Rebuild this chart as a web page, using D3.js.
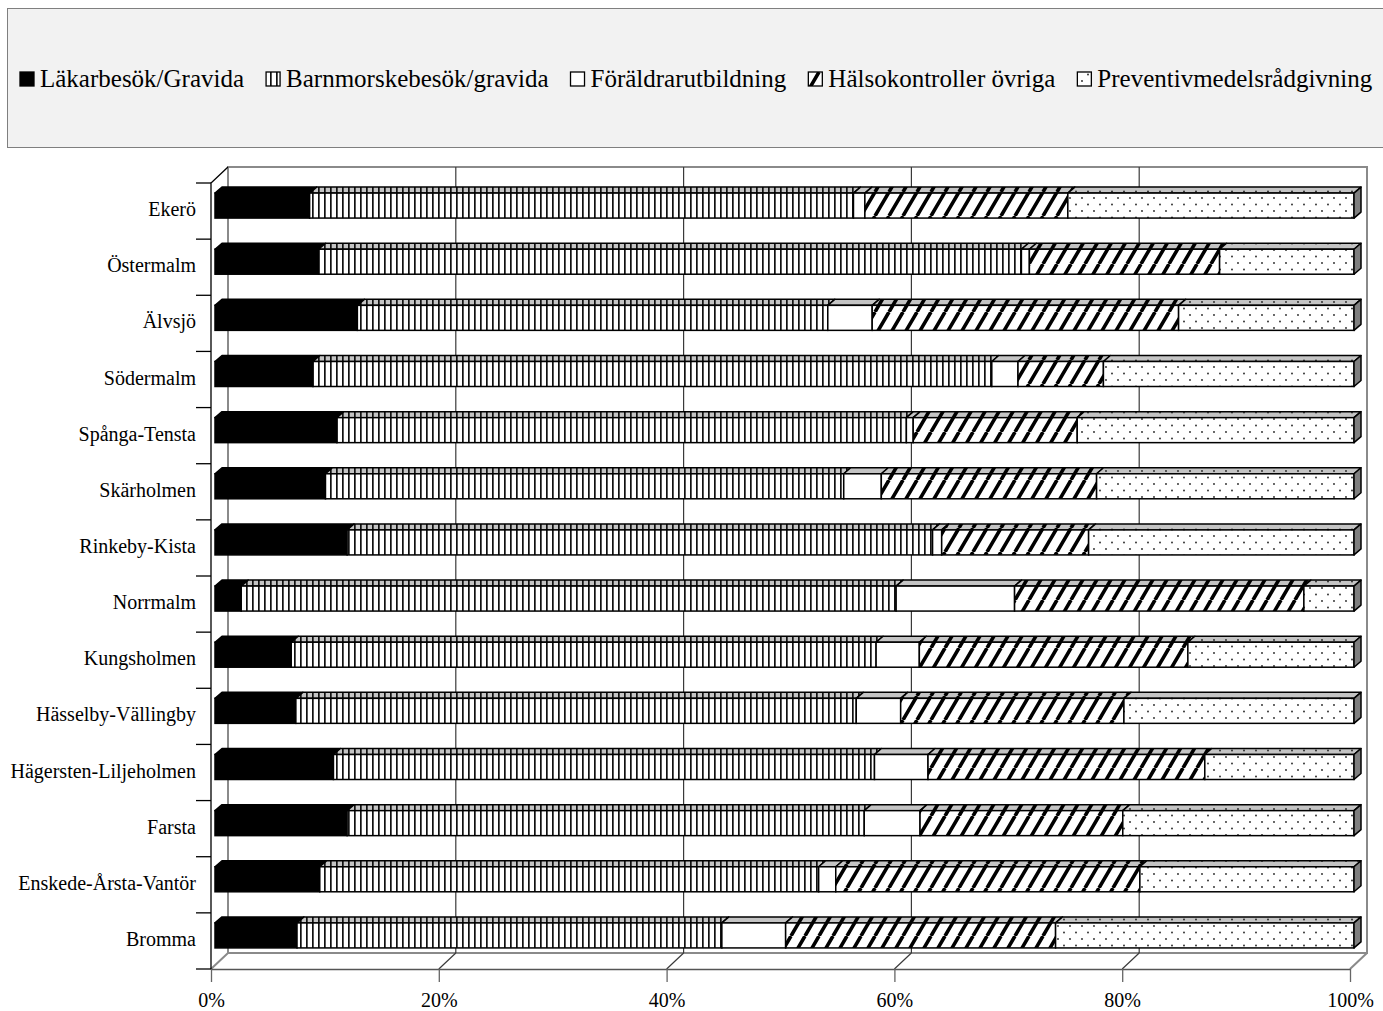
<!DOCTYPE html>
<html>
<head>
<meta charset="utf-8">
<script src="https://cdn.jsdelivr.net/npm/d3@7"></script>
<style>
  body { margin: 0; background: #fff; }
  text { font-family: "Liberation Serif", "Times New Roman", serif; fill: #000; }
</style>
</head>
<body>
<script>
// districts, top to bottom as drawn
var categories = ["Ekerö", "Östermalm", "Älvsjö", "Södermalm", "Spånga-Tensta",
  "Skärholmen", "Rinkeby-Kista", "Norrmalm", "Kungsholmen", "Hässelby-Vällingby",
  "Hägersten-Liljeholmen", "Farsta", "Enskede-Årsta-Vantör", "Bromma"];

var seriesNames = ["Läkarbesök/Gravida", "Barnmorskebesök/gravida", "Föräldrarutbildning",
  "Hälsokontroller övriga", "Preventivmedelsrådgivning"];

// shares in percent
var lakarbesok      = [8.3, 9.1, 12.5, 8.6, 10.7, 9.7, 11.6, 2.3, 6.7, 7.1, 10.4, 11.6, 9.2, 7.2];
var barnmorske      = [47.7, 61.7, 41.3, 59.6, 50.0, 45.5, 51.4, 57.5, 51.4, 49.2, 47.5, 45.4, 43.8, 37.3];
var foraldrar       = [1.0, 0.7, 3.9, 2.3, 0.6, 3.3, 0.8, 10.4, 3.8, 3.9, 4.7, 4.9, 1.5, 5.6];
var halsokontroller = [17.8, 16.7, 26.9, 7.5, 14.4, 18.9, 12.9, 25.4, 23.6, 19.6, 24.3, 17.8, 26.7, 23.7];
var preventiv       = [25.1, 11.8, 15.4, 22.0, 24.3, 22.6, 23.3, 4.4, 14.6, 20.2, 13.1, 20.3, 18.8, 26.2];

var xTicks = [0, 0.2, 0.4, 0.6, 0.8, 1];

var keys = ["k0", "k1", "k2", "k3", "k4"];
var seriesValues = [lakarbesok, barnmorske, foraldrar, halsokontroller, preventiv];
var rows = categories.map(function (c, i) {
  var r = { cat: c };
  keys.forEach(function (k, j) { r[k] = seriesValues[j][i]; });
  return r;
});

var width = 1383, height = 1011;
var wall = { dx: 17, dy: 16 };   // depth of back wall
var bar = { off: 4, dx: 7, dy: 6, h: 25, shift: 5.5 };

var svg = d3.select("body").append("svg")
  .attr("width", width)
  .attr("height", height);

var defs = svg.append("defs");

function makePatterns(id, bg) {
  var p = defs.append("pattern").attr("id", "vert" + id)
    .attr("patternUnits", "userSpaceOnUse").attr("width", 6).attr("height", 10);
  p.append("rect").attr("width", 6).attr("height", 10).attr("fill", bg);
  p.append("rect").attr("x", 0).attr("width", 1.7).attr("height", 10).attr("fill", "#111");

  p = defs.append("pattern").attr("id", "diag" + id)
    .attr("patternUnits", "userSpaceOnUse").attr("width", 14).attr("height", 24);
  p.append("rect").attr("width", 14).attr("height", 24).attr("fill", bg);
  p.append("path").attr("d", "M-7,24L7,0M7,24L21,0")
    .attr("stroke", "#000").attr("stroke-width", 3.6);

  p = defs.append("pattern").attr("id", "dots" + id)
    .attr("patternUnits", "userSpaceOnUse").attr("width", 12).attr("height", 13);
  p.append("rect").attr("width", 12).attr("height", 13).attr("fill", bg);
  p.append("circle").attr("cx", 2).attr("cy", 3).attr("r", 0.9).attr("fill", "#222");
  p.append("circle").attr("cx", 8).attr("cy", 9.5).attr("r", 0.9).attr("fill", "#222");
}
makePatterns("F", "#fff");
makePatterns("T", "#c4c4c4");

var frontFill = ["#000", "url(#vertF)", "#fff", "url(#diagF)", "url(#dotsF)"];
var topFill = ["#000", "url(#vertT)", "#c4c4c4", "url(#diagT)", "url(#dotsT)"];

// legend
var legend = svg.append("g");
legend.append("rect")
  .attr("x", 7.5).attr("y", 8.5)
  .attr("width", 1400).attr("height", 139)
  .attr("fill", "#f2f2f2")
  .attr("stroke", "#7f7f7f");

var lx = 20;
seriesNames.forEach(function (name, i) {
  legend.append("rect")
    .attr("x", lx).attr("y", 72)
    .attr("width", 14).attr("height", 14)
    .attr("fill", frontFill[i])
    .attr("stroke", "#000").attr("stroke-width", 1.3);
  var t = legend.append("text")
    .attr("x", lx + 20).attr("y", 87)
    .style("font-size", "25px")
    .text(name);
  lx = lx + 20 + t.node().getComputedTextLength() + 22;
});

// scales
var x = d3.scaleLinear().domain([0, 1]).range([211, 1350]);
var y = d3.scaleBand().domain(categories).range([183, 969]);

var yTop = y.range()[0], yBot = y.range()[1];

// back wall and floor
var walls = svg.append("g")
  .attr("fill", "none")
  .attr("stroke", "#8a8a8a")
  .attr("stroke-width", 2);
walls.append("path")
  .attr("d", "M" + (x(0) + wall.dx) + "," + (yBot - wall.dy) +
    "V" + (yTop - wall.dy) + "H" + (x(1) + wall.dx) +
    "V" + (yBot - wall.dy) + "H" + (x(0) + wall.dx) +
    "L" + x(0) + "," + yBot);
walls.append("path")
  .attr("d", "M" + x(1) + "," + yBot + "L" + (x(1) + wall.dx) + "," + (yBot - wall.dy));

// gridlines on back wall plus floor diagonals
var grid = svg.append("g").attr("stroke", "#3a3a3a").attr("stroke-width", 1.2);
grid.selectAll("line.v")
  .data(xTicks.slice(1, -1))
  .enter().append("line")
  .attr("x1", function (d) { return x(d) + wall.dx; })
  .attr("x2", function (d) { return x(d) + wall.dx; })
  .attr("y1", yTop - wall.dy)
  .attr("y2", yBot - wall.dy);
grid.selectAll("line.f")
  .data(xTicks.slice(1, -1))
  .enter().append("line")
  .attr("x1", function (d) { return x(d); })
  .attr("x2", function (d) { return x(d) + wall.dx; })
  .attr("y1", yBot)
  .attr("y2", yBot - wall.dy);

// bars
var stacked = d3.stack().keys(keys).offset(d3.stackOffsetExpand)(rows);

var barsG = svg.append("g");
categories.forEach(function (cat, ci) {
  var g = barsG.append("g");
  var fy = y(cat) + y.bandwidth() / 2 - bar.shift - bar.h / 2;
  stacked.forEach(function (s, si) {
    var d = s[ci];
    var x0 = x(d[0]) + bar.off, x1 = x(d[1]) + bar.off;
    if (x1 - x0 <= 0) return;
    g.append("path")
      .attr("d", "M" + x0 + "," + fy + "L" + (x0 + bar.dx) + "," + (fy - bar.dy) +
        "L" + (x1 + bar.dx) + "," + (fy - bar.dy) + "L" + x1 + "," + fy + "Z")
      .attr("fill", topFill[si])
      .attr("stroke", "#000").attr("stroke-width", 1.5)
      .attr("stroke-linejoin", "round");
    g.append("rect")
      .attr("x", x0).attr("y", fy)
      .attr("width", x1 - x0).attr("height", bar.h)
      .attr("fill", frontFill[si])
      .attr("stroke", "#000").attr("stroke-width", 1.5);
    if (si === stacked.length - 1) {
      g.append("path")
        .attr("d", "M" + x1 + "," + fy + "L" + (x1 + bar.dx) + "," + (fy - bar.dy) +
          "L" + (x1 + bar.dx) + "," + (fy + bar.h - bar.dy) + "L" + x1 + "," + (fy + bar.h) + "Z")
        .attr("fill", "#7f7f7f")
        .attr("stroke", "#000").attr("stroke-width", 1.5)
        .attr("stroke-linejoin", "round");
    }
  });
});

// x axis on the front edge
var xAxis = svg.append("g")
  .attr("transform", "translate(0," + yBot + ")")
  .call(d3.axisBottom(x).tickValues(xTicks).tickFormat(d3.format(".0%")).tickSize(13).tickPadding(11).tickSizeOuter(0));
xAxis.select(".domain").attr("stroke", "#555").attr("stroke-width", 1.5);
xAxis.selectAll(".tick line").attr("stroke", "#666").attr("stroke-width", 1.3);
xAxis.selectAll("text")
  .style("font-size", "20px")
  .style("font-family", "'Liberation Serif', 'Times New Roman', serif");

// y axis: labels at band centres, ticks at band edges
var yAxis = svg.append("g")
  .attr("transform", "translate(" + x(0) + ",0)")
  .call(d3.axisLeft(y).tickSize(0).tickPadding(15));
yAxis.select(".domain").remove();
yAxis.selectAll("text")
  .attr("dy", "0.3em")
  .attr("y", -1)
  .style("font-size", "20px")
  .style("font-family", "'Liberation Serif', 'Times New Roman', serif");

var edges = categories.map(function (c) { return y(c); }).concat([yBot]);
var leftAx = svg.append("g").attr("stroke", "#000").attr("stroke-width", 1.3);
leftAx.selectAll("line")
  .data(edges)
  .enter().append("line")
  .attr("x1", x(0) - 15).attr("x2", x(0))
  .attr("y1", function (d) { return d; })
  .attr("y2", function (d) { return d; });
leftAx.append("path")
  .attr("fill", "none")
  .attr("d", "M" + x(0) + "," + yBot + "V" + yTop + "L" + (x(0) + wall.dx) + "," + (yTop - wall.dy));
</script>
</body>
</html>
